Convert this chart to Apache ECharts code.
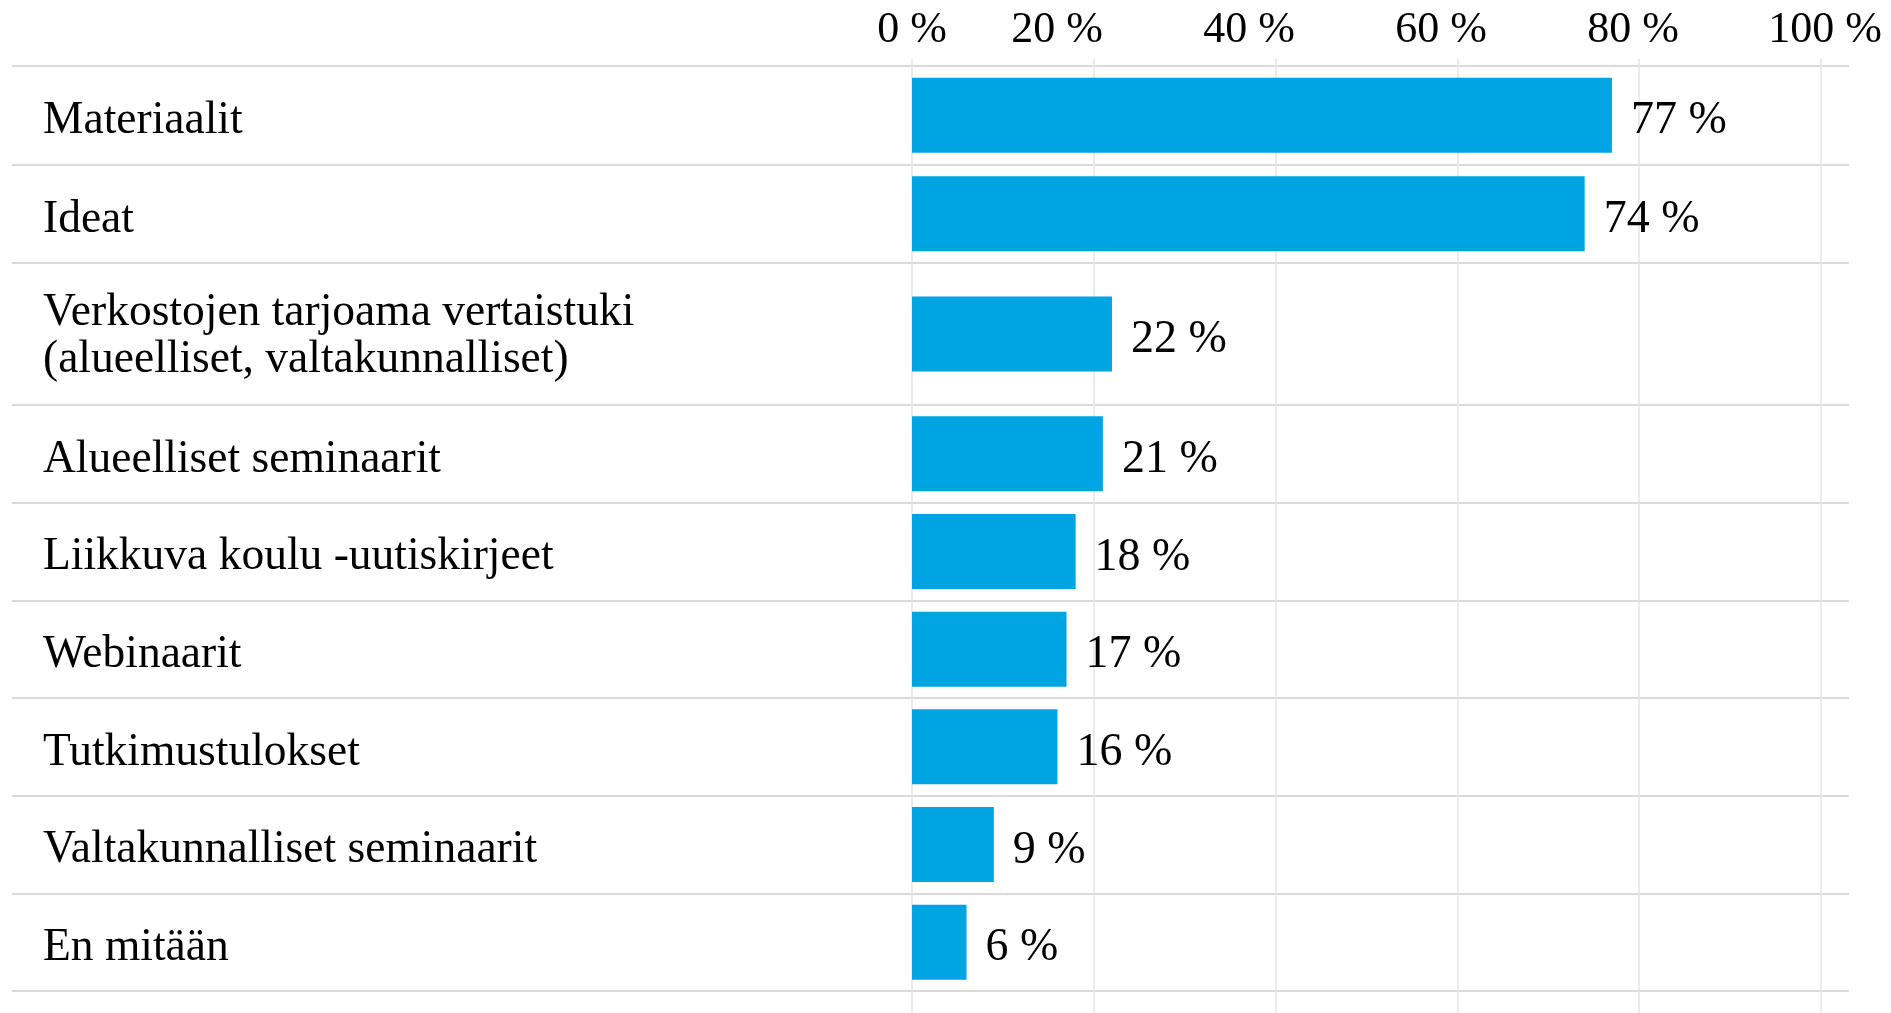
<!DOCTYPE html>
<html>
<head>
<meta charset="utf-8">
<script src="https://cdn.jsdelivr.net/npm/echarts@6/dist/echarts.min.js"></script>
<style>
  html, body { margin: 0; padding: 0; background: #fff; }
  #chart { width: 1891px; height: 1013px; }
</style>
</head>
<body>
<div id="chart"></div>
<script>
const categories = [
  'Materiaalit',
  'Ideat',
  'Verkostojen tarjoama vertaistuki\n(alueelliset, valtakunnalliset)',
  'Alueelliset seminaarit',
  'Liikkuva koulu -uutiskirjeet',
  'Webinaarit',
  'Tutkimustulokset',
  'Valtakunnalliset seminaarit',
  'En mitään'
]
const values = [77, 74, 22, 21, 18, 17, 16, 9, 6]
const tickValues = [0, 20, 40, 60, 80, 100]
// rows drawn together in one band grid; the two-line row gets its own taller grid
const rowGroups = [[0, 2], [2, 3], [3, 9]]

const fontFamily = '"Liberation Serif", "DejaVu Serif", serif'
const barColor = '#00a4e0'
const textColor = '#000'

// pixel box of each row group, labelShift moves the names a bit below the row middle
const groupBoxes = [
  { top: 66, height: 197, labelShift: 6 },
  { top: 263, height: 142, labelShift: 3 },
  { top: 405, height: 586, labelShift: 6 }
]
const plotLeft = 912
const plotWidth = 909
const tickMin = tickValues[0]
const tickMax = tickValues[tickValues.length - 1]
const tickStep = tickValues[1] - tickValues[0]

const tickLabelStyle = {
  color: textColor,
  fontFamily,
  fontSize: 44,
  margin: 7
}

const grid = [
  // vertical grid lines, only the 0 % label sits on its line
  { left: plotLeft, width: plotWidth, top: 59, bottom: 0 },
  // the other tick labels are spread a little wider than the grid lines
  { left: 865, width: 960, top: 59, bottom: 0 }
]
const xAxis = [
  {
    gridIndex: 0,
    type: 'value',
    position: 'top',
    min: tickMin,
    max: tickMax,
    interval: tickStep,
    axisLine: { show: false },
    axisTick: { show: false },
    axisLabel: {
      ...tickLabelStyle,
      formatter: v => (v === tickMin ? v + ' %' : '')
    },
    splitLine: { lineStyle: { color: '#e4e4e4', width: 1.5 } }
  },
  {
    gridIndex: 1,
    type: 'value',
    position: 'top',
    min: tickMin,
    max: tickMax,
    interval: tickStep,
    axisLine: { show: false },
    axisTick: { show: false },
    splitLine: { show: false },
    axisLabel: {
      ...tickLabelStyle,
      showMaxLabel: true,
      formatter: v => (v === tickMin ? '' : v + ' %')
    }
  }
]
const yAxis = [
  { gridIndex: 0, type: 'value', show: false },
  { gridIndex: 1, type: 'value', show: false }
]
const series = []

function addGrid(box, xOpt, yOpt) {
  const idx = grid.length
  grid.push(box)
  xAxis.push({ gridIndex: idx, ...xOpt })
  yAxis.push({ gridIndex: idx, ...yOpt })
  return idx
}

rowGroups.forEach(([from, to], g) => {
  const box = groupBoxes[g]
  const cats = categories.slice(from, to)

  // wide grid: the row separators
  addGrid(
    { left: 12, right: 42, top: box.top, height: box.height },
    { type: 'value', show: false },
    {
      type: 'category',
      data: cats,
      inverse: true,
      axisLine: { show: false },
      axisTick: { show: false },
      axisLabel: { show: false },
      splitLine: { show: true, interval: 0, lineStyle: { color: '#dadada', width: 2 } }
    }
  )

  // wide grid, nudged down: the category names
  addGrid(
    { left: 12, right: 42, top: box.top + box.labelShift, height: box.height },
    { type: 'value', show: false },
    {
      type: 'category',
      data: cats,
      inverse: true,
      axisLine: { show: false },
      axisTick: { show: false },
      splitLine: { show: false },
      axisLabel: {
        inside: true,
        interval: 0,
        margin: 31,
        color: textColor,
        fontFamily,
        fontSize: 45.5,
        lineHeight: 47
      }
    }
  )

  // narrow grid: the bars on the 0-100 % scale
  const barIdx = addGrid(
    { left: plotLeft, width: plotWidth, top: box.top, height: box.height },
    { type: 'value', min: tickMin, max: tickMax, show: false },
    { type: 'category', data: cats, inverse: true, show: false }
  )
  series.push({
    type: 'bar',
    xAxisIndex: barIdx,
    yAxisIndex: barIdx,
    data: values.slice(from, to),
    barWidth: 75,
    itemStyle: { color: barColor },
    label: {
      show: true,
      position: 'right',
      distance: 19,
      offset: [0, 6],
      formatter: '{c} %',
      color: textColor,
      fontFamily,
      fontSize: 46
    }
  })
})

const chart = echarts.init(document.getElementById('chart'))
chart.setOption({
  animation: false,
  backgroundColor: '#fff',
  grid,
  xAxis,
  yAxis,
  series
})
window.addEventListener('resize', () => chart.resize())
</script>
</body>
</html>
